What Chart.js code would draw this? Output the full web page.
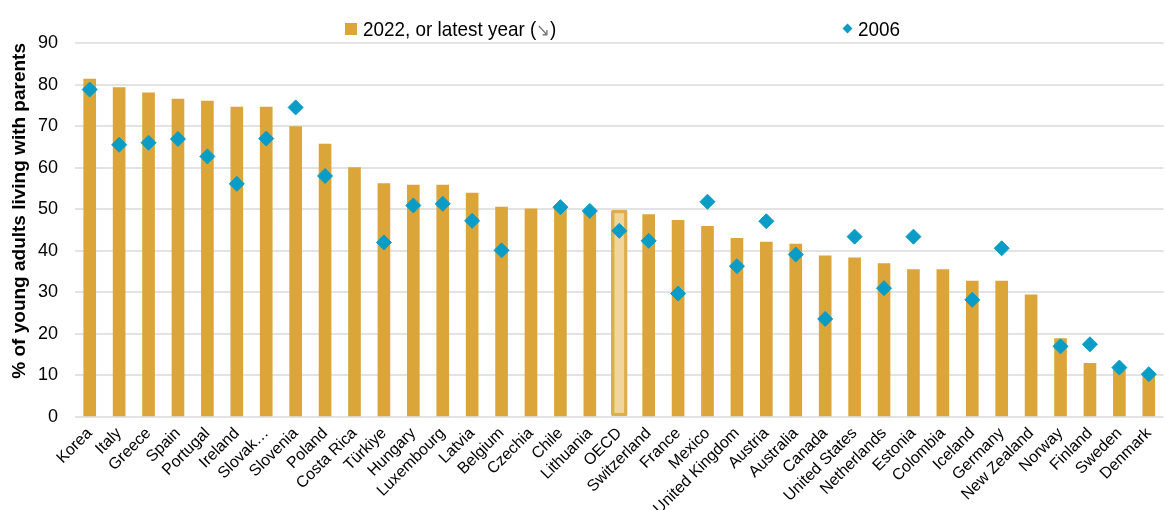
<!DOCTYPE html>
<html><head><meta charset="utf-8">
<script src="https://cdn.jsdelivr.net/npm/chart.js@4.4.1/dist/chart.umd.min.js"></script>
<style>
html,body{margin:0;padding:0;overflow:hidden;background:#fff;}
#wrap{position:relative;width:1172px;height:510px;}
.leg{position:absolute;font-family:"Liberation Sans",Arial,sans-serif;font-size:21px;color:#000;white-space:nowrap;transform-origin:0 0;transform:scaleX(0.9);line-height:1;}
.arrow{color:#777;font-family:"DejaVu Sans",sans-serif;font-size:18px;}
</style></head><body>
<div id="wrap">
<canvas id="c" width="1172" height="510"></canvas>
<div style="position:absolute;left:345px;top:23px;width:12px;height:12px;background:#DBA53A"></div>
<div class="leg" style="left:363px;top:18px">2022, or latest year (<span class="arrow">↘</span>)</div>
<div style="position:absolute;left:844px;top:25px;width:7px;height:7px;background:#089CC6;transform:rotate(45deg)"></div>
<div class="leg" style="left:858px;top:18px">2006</div>
</div>
<script>
const categories = ["Korea","Italy","Greece","Spain","Portugal","Ireland","Slovak…","Slovenia","Poland","Costa Rica","Türkiye","Hungary","Luxembourg","Latvia","Belgium","Czechia","Chile","Lithuania","OECD","Switzerland","France","Mexico","United Kingdom","Austria","Australia","Canada","United States","Netherlands","Estonia","Colombia","Iceland","Germany","New Zealand","Norway","Finland","Sweden","Denmark"];
const values2022 = [81.3,79.3,78.0,76.5,76.0,74.6,74.6,69.9,65.7,60.0,56.2,55.8,55.8,53.9,50.5,50.1,50.3,49.3,49.8,48.7,47.3,45.9,43.0,42.1,41.6,38.8,38.3,36.9,35.5,35.5,32.7,32.7,29.4,18.9,12.9,11.4,10.1];
const values2006 = [78.8,65.5,66.0,66.9,62.7,56.1,67.0,74.5,58.0,null,42.0,50.9,51.3,47.2,40.1,null,50.5,49.6,44.8,42.4,29.7,51.8,36.3,47.1,39.1,23.6,43.4,31.0,43.4,null,28.2,40.6,null,17.0,17.5,11.9,10.3];
const yTicks = [0,10,20,30,40,50,60,70,80,90];
const highlight = "OECD";

const GOLD = '#DBA53A';
const BLUE = '#089CC6';
Chart.defaults.font.family = "'Liberation Sans', Arial, sans-serif";
Chart.defaults.color = '#000';

new Chart(document.getElementById('c'), {
  data: {
    labels: categories,
    datasets: [
      {
        type: 'line', label: '2006', data: values2006, order: 0,
        showLine: false, pointStyle: 'rectRot', pointRadius: 7.5, pointHoverRadius: 7.5,
        pointBackgroundColor: BLUE, pointBorderColor: BLUE, pointBorderWidth: 1
      },
      {
        type: 'bar', label: '2022, or latest year', order: 2, grouped: false,
        data: categories.map((c, i) => c === highlight ? null : values2022[i]),
        backgroundColor: GOLD, barThickness: 12, borderWidth: 0
      },
      {
        type: 'bar', label: 'OECD', order: 1, grouped: false,
        data: categories.map((c, i) => c === highlight ? values2022[i] : null),
        backgroundColor: '#F0D69C', borderColor: '#DFAE4C', borderWidth: 3.5,
        borderRadius: 2, borderSkipped: false, barThickness: 16
      }
    ]
  },
  options: {
    responsive: false,
    animation: false,
    layout: { padding: { top: 43, left: 0, right: 0, bottom: 0 } },
    plugins: { legend: { display: false }, tooltip: { enabled: false } },
    scales: {
      x: {
        offset: true,
        grid: { display: false, drawTicks: false },
        border: { display: false },
        ticks: { autoSkip: false, maxRotation: 45, minRotation: 45, padding: 7, font: { size: 16 }, color: '#000' },
        afterFit: s => { s.height = 93; }
      },
      y: {
        min: 0, max: 90,
        afterBuildTicks: s => { s.ticks = yTicks.map(v => ({ value: v })); },
        grid: { color: '#E3E3E3', lineWidth: 2, drawTicks: false },
        border: { display: false },
        ticks: { padding: 17, font: { size: 18 }, color: '#000' },
        title: { display: true, text: '% of young adults living with parents', align: 'end',
                 font: { size: 19, weight: 'bold' }, color: '#000', padding: { top: 8, bottom: 4 } },
        afterFit: s => { s.width = 75; }
      }
    }
  }
});
</script>
</body></html>
